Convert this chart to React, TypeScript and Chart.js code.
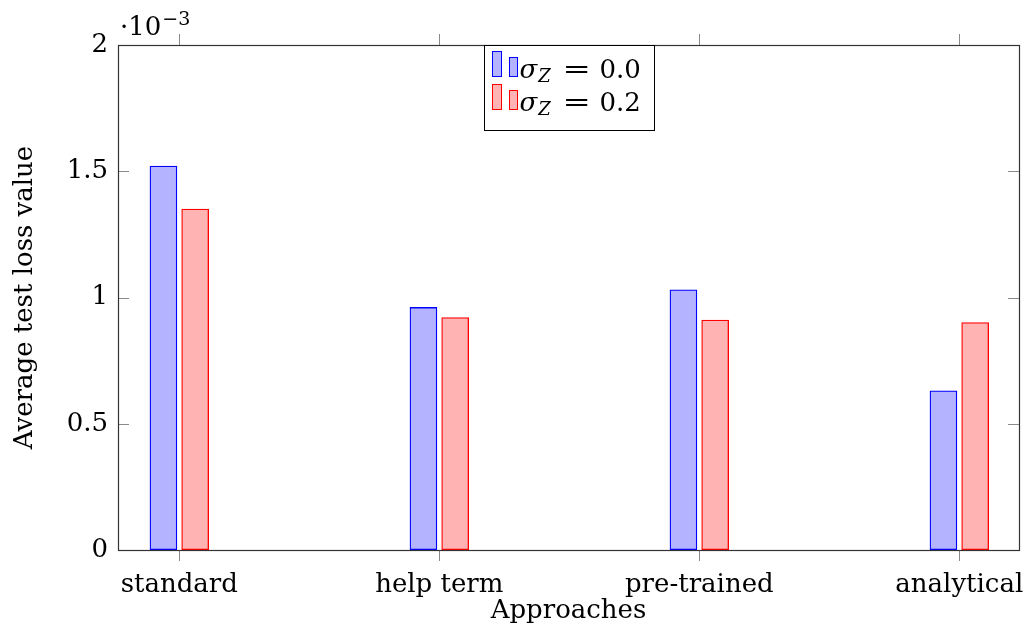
import { useEffect, useRef } from "react";
import { Chart, registerables } from "chart.js";

Chart.register(...registerables);

const categories = ["standard", "help term", "pre-trained", "analytical"];
const sigma00 = [1.52, 0.96, 1.03, 0.63];
const sigma02 = [1.35, 0.92, 0.91, 0.9];
const yTicks = [0, 0.5, 1, 1.5, 2];
const yTickLabels = ["0", "0.5", "1", "1.5", "2"];
const seriesValues = ["0.0", "0.2"];

const FONT_FAMILY = '"DejaVu Serif", serif';
const FONT_SIZE = 26;

const BLUE_FILL = "#b3b3ff";
const BLUE_LINE = "#0000ff";
const RED_FILL = "#ffb3b3";
const RED_LINE = "#ff0000";

const decorPlugin = {
  id: "decor",
  afterDatasetsDraw(chart: any) {
    const { ctx, chartArea: a, scales } = chart;
    ctx.save();
    // tick marks
    ctx.strokeStyle = "#8a8a8a";
    ctx.lineWidth = 1;
    ctx.beginPath();
    for (const v of yTicks) {
      const y = Math.round(scales.y.getPixelForValue(v)) + 0.5;
      ctx.moveTo(a.left, y);
      ctx.lineTo(a.left + 11, y);
      ctx.moveTo(a.right, y);
      ctx.lineTo(a.right - 11, y);
    }
    for (let i = 0; i < categories.length; i++) {
      const x = Math.round(scales.x.getPixelForValue(i)) + 0.5;
      ctx.moveTo(x, a.top);
      ctx.lineTo(x, a.top - 11);
      ctx.moveTo(x, a.bottom);
      ctx.lineTo(x, a.bottom + 11);
    }
    ctx.stroke();
    // frame
    ctx.strokeStyle = "#333333";
    ctx.lineWidth = 1.2;
    ctx.strokeRect(
      Math.round(a.left) + 0.5,
      Math.round(a.top) + 0.5,
      Math.round(a.right - a.left),
      Math.round(a.bottom - a.top)
    );

    // multiplier label
    ctx.fillStyle = "#000";
    ctx.textBaseline = "alphabetic";
    ctx.textAlign = "left";
    ctx.font = `${FONT_SIZE}px ${FONT_FAMILY}`;
    const mx = a.left + 2;
    const my = a.top - 10;
    ctx.fillText("·10", mx, my);
    const w10 = ctx.measureText("·10").width;
    ctx.font = `19px ${FONT_FAMILY}`;
    ctx.fillText("−3", mx + w10 + 1, my - 10);

    // legend
    const cx = (a.left + a.right) / 2;
    const lw = 170;
    const lh = 85;
    const lx = Math.round(cx - lw / 2) + 0.5;
    const ly = Math.round(a.top) + 0.5;
    ctx.fillStyle = "#ffffff";
    ctx.fillRect(lx, ly, lw, lh);
    ctx.strokeStyle = "#000";
    ctx.lineWidth = 1;
    ctx.strokeRect(lx, ly, lw, lh);
    const rows = [
      { fill: BLUE_FILL, line: BLUE_LINE, val: seriesValues[0] },
      { fill: RED_FILL, line: RED_LINE, val: seriesValues[1] },
    ];
    rows.forEach((r, i) => {
      const base = ly + 32 + i * 33;
      ctx.fillStyle = r.fill;
      ctx.strokeStyle = r.line;
      ctx.lineWidth = 1;
      ctx.fillRect(lx + 8, base - 26, 9, 25);
      ctx.strokeRect(lx + 8, base - 26, 9, 25);
      ctx.fillRect(lx + 25, base - 20, 8, 19);
      ctx.strokeRect(lx + 25, base - 20, 8, 19);
      ctx.fillStyle = "#000";
      ctx.font = `italic ${FONT_SIZE}px ${FONT_FAMILY}`;
      ctx.fillText("σ", lx + 35, base);
      const ws = ctx.measureText("σ").width;
      ctx.font = `italic 18px ${FONT_FAMILY}`;
      ctx.fillText("Z", lx + 35 + ws + 1, base + 4);
      ctx.font = `${FONT_SIZE}px ${FONT_FAMILY}`;
      ctx.save();
      ctx.translate(lx + 78, base);
      ctx.scale(1.3, 1);
      ctx.fillText("=", 0, 0);
      ctx.restore();
      ctx.fillText(r.val, lx + 115, base);
    });
    ctx.restore();
  },
};

export default function App() {
  const ref = useRef<HTMLCanvasElement | null>(null);

  useEffect(() => {
    if (!ref.current) return;
    const chart = new Chart(ref.current, {
      type: "bar",
      data: {
        datasets: [
          {
            label: "σZ = 0.0",
            data: sigma00.map((v, i) => ({ x: i, y: v })),
            backgroundColor: BLUE_FILL,
            borderColor: BLUE_LINE,
            borderWidth: 1.3,
            borderSkipped: false,
            inflateAmount: 0.5,
          },
          {
            label: "σZ = 0.2",
            data: sigma02.map((v, i) => ({ x: i, y: v })),
            backgroundColor: RED_FILL,
            borderColor: RED_LINE,
            borderWidth: 1.3,
            borderSkipped: false,
            inflateAmount: 0.5,
          },
        ],
      },
      options: {
        animation: false,
        responsive: true,
        maintainAspectRatio: false,
        categoryPercentage: 0.244,
        barPercentage: 0.84,
        layout: { padding: { top: 45, right: 8, left: 0, bottom: 0 } },
        plugins: {
          legend: { display: false },
          tooltip: { enabled: false },
        },
        scales: {
          x: {
            type: "linear",
            offset: false,
            bounds: "data",
            min: -0.2358,
            max: 3.2296,
            afterBuildTicks: (scale: any) => {
              scale.ticks = categories.map((_, i) => ({ value: i }));
            },
            afterFit: (scale: any) => {
              scale.height = 77;
              scale.paddingLeft = 0;
              scale.paddingRight = 0;
            },
            ticks: {
              autoSkip: false,
              maxRotation: 0,
              minRotation: 0,
              padding: 20,
              color: "#000",
              font: { family: FONT_FAMILY, size: FONT_SIZE },
              callback: (v: any) => categories[v as number] ?? "",
            },
            grid: { display: true, drawOnChartArea: false, drawTicks: false, offset: false },
            border: { display: false },
            title: {
              display: true,
              text: "Approaches",
              color: "#000",
              font: { family: FONT_FAMILY, size: FONT_SIZE },
              padding: { top: 0, bottom: 0 },
            },
          },
          y: {
            type: "linear",
            min: 0,
            max: 2,
            afterBuildTicks: (scale: any) => {
              scale.ticks = yTicks.map((v) => ({ value: v }));
            },
            afterFit: (scale: any) => {
              scale.width = 118;
            },
            ticks: {
              padding: 10,
              color: "#000",
              font: { family: FONT_FAMILY, size: FONT_SIZE },
              callback: (v: any) => {
                const idx = yTicks.indexOf(v as number);
                return idx >= 0 ? yTickLabels[idx] : "";
              },
            },
            grid: { display: true, drawOnChartArea: false, drawTicks: false },
            border: { display: false },
            title: {
              display: true,
              text: "Average test loss value",
              color: "#000",
              font: { family: FONT_FAMILY, size: FONT_SIZE },
              padding: { top: 10, bottom: 0 },
            },
          },
        },
      },
      plugins: [decorPlugin],
    } as any);
    return () => chart.destroy();
  }, []);

  return (
    <div style={{ position: "fixed", left: 0, top: 0, width: 1027, height: 627, background: "#fff" }}>
      <canvas ref={ref} />
    </div>
  );
}
